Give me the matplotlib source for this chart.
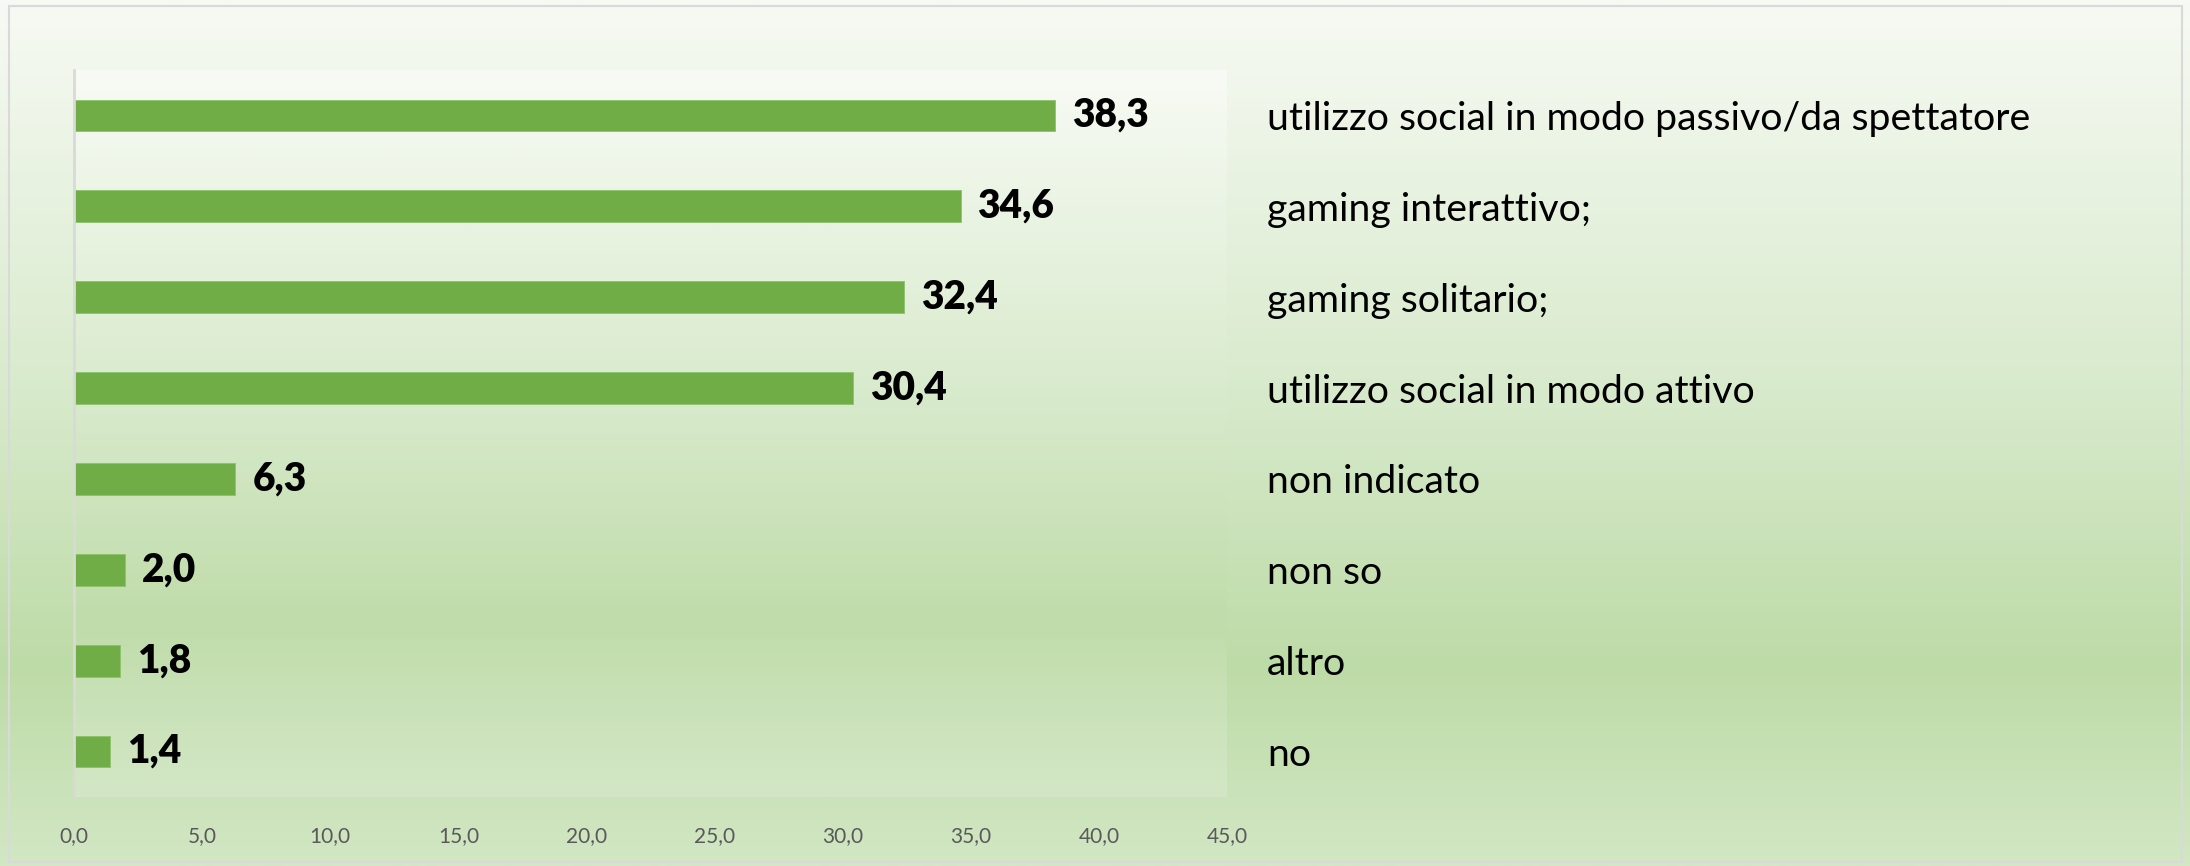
import matplotlib
matplotlib.use("Agg")
import matplotlib.pyplot as plt
import numpy as np
from matplotlib.colors import LinearSegmentedColormap
from matplotlib.patches import Rectangle

categories = [
    "utilizzo social in modo passivo/da spettatore",
    "gaming interattivo;",
    "gaming solitario;",
    "utilizzo social in modo attivo",
    "non indicato",
    "non so",
    "altro",
    "no",
]
values = [38.3, 34.6, 32.4, 30.4, 6.3, 2.0, 1.8, 1.4]
xticks = [0, 5, 10, 15, 20, 25, 30, 35, 40, 45]

W, H, DPI = 2190, 866, 100
fig = plt.figure(figsize=(W / DPI, H / DPI), dpi=DPI)
plt.rcParams['font.family'] = ['Lato', 'DejaVu Sans']

stops = [(0.0, "#f7faf4"), (0.45, "#d8eacc"), (0.77, "#bddba7"), (1.0, "#d2e7c4")]
grad = np.linspace(0, 1, 512).reshape(-1, 1)

# figure background gradient
bg = fig.add_axes([0, 0, 1, 1], zorder=-10)
bg_cmap = LinearSegmentedColormap.from_list("bg", stops)
bg.imshow(grad, aspect="auto", cmap=bg_cmap, extent=[0, 1, 0, 1], origin="upper")
bg.set_xlim(0, 1); bg.set_ylim(0, 1)
bg.axis("off")
bg.add_patch(Rectangle((9 / W, 1 - 862 / H), (2182 - 9) / W, (862 - 6) / H,
                       fill=False, edgecolor="#d9d9d9", linewidth=1.5))

left, right, top, bottom = 74, 1227, 70, 797
ax = fig.add_axes([left / W, 1 - bottom / H, (right - left) / W, (bottom - top) / H])
ax.set_facecolor("none")

n = len(categories)
y = np.arange(n)
ax.set_xlim(0, 45)
ax.set_ylim(n - 0.5, -0.5)

pa_stops = [(0.0, "#f8fbf5"), (0.45, "#d8eacc"), (0.76, "#c0dcaa"), (1.0, "#d3e7c6")]
pa_cmap = LinearSegmentedColormap.from_list("pa", pa_stops)
ax.imshow(grad, aspect="auto", cmap=pa_cmap, extent=[0, 45, n - 0.5, -0.5],
          origin="upper", zorder=0)

ax.barh(y, values, height=0.35, color="#70ad47", edgecolor="#8cc26a", linewidth=0.6, zorder=2)

for yi, v in zip(y, values):
    ax.annotate(f"{v:.1f}".replace(".", ","), xy=(v, yi), xytext=(17 * 72 / DPI, 0),
                textcoords="offset points", ha="left", va="center",
                fontsize=28, fontweight="heavy", color="black", zorder=3)

for s in ["top", "right", "bottom"]:
    ax.spines[s].set_visible(False)
ax.spines["left"].set_color("#d9d9d9")
ax.spines["left"].set_linewidth(2)

ax.set_xticks(xticks)
ax.set_xticklabels([f"{t:.1f}".replace(".", ",") for t in xticks], color="#595959", fontsize=15)
ax.tick_params(axis="x", length=0, pad=21)

ax.yaxis.tick_right()
ax.set_yticks(y)
ax.set_yticklabels(categories, fontsize=28.3, color="black")
ax.tick_params(axis="y", length=0, pad=40 * 72 / DPI)

fig.savefig("out.png", dpi=DPI)
